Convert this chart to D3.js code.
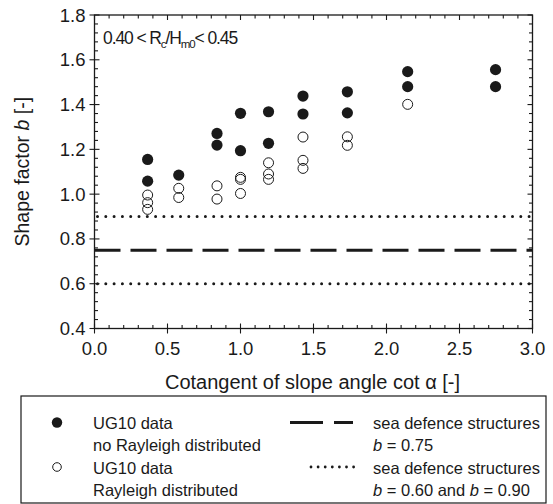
<!DOCTYPE html>
<html>
<head>
<meta charset="utf-8">
<script src="https://cdn.jsdelivr.net/npm/d3@7"></script>
<style>
  html, body { margin: 0; padding: 0; background: #fff; }
  svg { display: block; font-family: "Liberation Sans", Arial, Helvetica, sans-serif; }
</style>
</head>
<body>
<svg id="chart" width="553" height="504"></svg>
<script>
// Slope angles expressed as cot(alpha), one column of measurements per slope
const slopeCot = [0.364, 0.577, 0.839, 1.0, 1.192, 1.428, 1.732, 2.145, 2.747];

// Shape factor b, not Rayleigh distributed (filled markers)
const bNoRayleigh = [
  [1.155, 1.058],
  [1.085],
  [1.271, 1.219],
  [1.361, 1.194],
  [1.368, 1.227],
  [1.438, 1.358],
  [1.457, 1.363],
  [1.547, 1.480],
  [1.556, 1.480]
];

// Shape factor b, Rayleigh distributed (open markers)
const bRayleigh = [
  [0.996, 0.962, 0.932],
  [1.026, 0.985],
  [1.037, 0.978],
  [1.075, 1.066, 1.003],
  [1.140, 1.090, 1.066],
  [1.255, 1.151, 1.115],
  [1.256, 1.218],
  [1.401],
  []
];

// Reference values for sea defence structures
const bDesign = [0.75];
const bBounds = [0.60, 0.90];

const xTicks = [0.0, 0.5, 1.0, 1.5, 2.0, 2.5, 3.0];
const yTicks = [0.4, 0.6, 0.8, 1.0, 1.2, 1.4, 1.6, 1.8];

const legendRows = [
  ["UG10 data", "no Rayleigh distributed"],
  ["UG10 data", "Rayleigh distributed"]
];

const svg = d3.select("#chart");
const m = { left: 94.5, right: 532.5, top: 15, bottom: 328.5 };

const x = d3.scaleLinear().domain([0, 3]).range([m.left, m.right]);
const y = d3.scaleLinear().domain([0.4, 1.8]).range([m.bottom, m.top]);

const ink = "#1a1a1a";

// Frame
svg.append("rect")
  .attr("x", m.left).attr("y", m.top)
  .attr("width", m.right - m.left).attr("height", m.bottom - m.top)
  .attr("fill", "none").attr("stroke", ink).attr("stroke-width", 1.3);

const xMinor = d3.range(0, 3.0001, 0.1);
const yMinor = d3.range(0.4, 1.8001, 0.04);

function isMajor(v, step) { return Math.abs(v / step - Math.round(v / step)) < 1e-6; }

const ticks = svg.append("g").attr("stroke", ink).attr("stroke-width", 1.1);

// Bottom and top ticks
xMinor.forEach(v => {
  const major = isMajor(v, 0.5);
  const px = x(v);
  ticks.append("line").attr("x1", px).attr("x2", px)
    .attr("y1", m.bottom + (major ? 5 : 0)).attr("y2", m.bottom - (major ? 5 : 3.5));
  ticks.append("line").attr("x1", px).attr("x2", px)
    .attr("y1", m.top).attr("y2", m.top + (major ? 5 : 3.5));
});

// Left and right ticks
yMinor.forEach(v => {
  const major = isMajor(v - 0.4, 0.2);
  const py = y(v);
  ticks.append("line").attr("y1", py).attr("y2", py)
    .attr("x1", m.left - (major ? 5 : 0)).attr("x2", m.left + (major ? 5 : 3.5));
  ticks.append("line").attr("y1", py).attr("y2", py)
    .attr("x1", m.right).attr("x2", m.right - (major ? 5 : 3.5));
});

// Tick labels
svg.append("g").selectAll("text").data(xTicks).join("text")
  .attr("x", d => x(d)).attr("y", m.bottom + 26)
  .attr("text-anchor", "middle").attr("font-size", 18.5).attr("fill", ink)
  .text(d => d.toFixed(1));

svg.append("g").selectAll("text").data(yTicks).join("text")
  .attr("x", m.left - 9).attr("y", d => y(d) + 6.5)
  .attr("text-anchor", "end").attr("font-size", 18.5).attr("fill", ink)
  .text(d => d.toFixed(1));

// Axis titles
svg.append("text")
  .attr("x", (m.left + m.right) / 2 - 1).attr("y", 389)
  .attr("text-anchor", "middle").attr("font-size", 20).attr("fill", ink)
  .text("Cotangent of slope angle cot α [-]");

const yTitle = svg.append("text")
  .attr("transform", `translate(29,${(m.top + m.bottom) / 2}) rotate(-90)`)
  .attr("text-anchor", "middle").attr("font-size", 19.5).attr("fill", ink);
yTitle.append("tspan").text("Shape factor ");
yTitle.append("tspan").attr("font-style", "italic").text("b");
yTitle.append("tspan").text(" [-]");

// Range annotation
const ann = svg.append("text")
  .attr("x", 103).attr("y", 44).attr("font-size", 17.5).attr("fill", ink)
  .attr("letter-spacing", -1.1);
ann.append("tspan").text("0.40 < R");
ann.append("tspan").attr("font-size", 11.5).attr("dy", 4).text("c");
ann.append("tspan").attr("dy", -4).text("/H");
ann.append("tspan").attr("font-size", 11.5).attr("dy", 4).text("m0");
ann.append("tspan").attr("dy", -4).text("< 0.45");

// Reference lines
const lines = svg.append("g");
bDesign.forEach(v => {
  lines.append("line")
    .attr("x1", m.left).attr("x2", m.right).attr("y1", y(v)).attr("y2", y(v))
    .attr("stroke", ink).attr("stroke-width", 3)
    .attr("stroke-dasharray", "26,10");
});
bBounds.forEach(v => {
  lines.append("line")
    .attr("x1", m.left + 3).attr("x2", m.right).attr("y1", y(v)).attr("y2", y(v))
    .attr("stroke", ink).attr("stroke-width", 3).attr("stroke-linecap", "round")
    .attr("stroke-dasharray", "0,8.3");
});

// Data markers
const filled = slopeCot.flatMap((c, i) => bNoRayleigh[i].map(b => ({ c, b })));
const open = slopeCot.flatMap((c, i) => bRayleigh[i].map(b => ({ c, b })));

svg.append("g").selectAll("circle").data(open).join("circle")
  .attr("cx", d => x(d.c)).attr("cy", d => y(d.b)).attr("r", 5)
  .attr("fill", "none").attr("stroke", ink).attr("stroke-width", 1);

svg.append("g").selectAll("circle").data(filled).join("circle")
  .attr("cx", d => x(d.c)).attr("cy", d => y(d.b)).attr("r", 5.6)
  .attr("fill", ink);

// Legend
const lg = svg.append("g");
lg.append("rect").attr("x", 21).attr("y", 396).attr("width", 525).attr("height", 107)
  .attr("fill", "none").attr("stroke", ink).attr("stroke-width", 1.2);

const rowY = [428, 450, 472.5, 494.5];
const lgFont = 16.5;

lg.append("circle").attr("cx", 57).attr("cy", rowY[0] - 5.5).attr("r", 5.2).attr("fill", ink);
lg.append("circle").attr("cx", 57).attr("cy", rowY[2] - 5.5).attr("r", 4.3)
  .attr("fill", "none").attr("stroke", ink).attr("stroke-width", 1);

legendRows.forEach((pair, i) => {
  pair.forEach((t, j) => {
    lg.append("text").attr("x", 93).attr("y", rowY[i * 2 + j] + 1)
      .attr("font-size", lgFont).attr("fill", ink).text(t);
  });
});

const tx = 373;
lg.append("line").attr("x1", 290).attr("x2", 353).attr("y1", rowY[0] - 5.5).attr("y2", rowY[0] - 5.5)
  .attr("stroke", ink).attr("stroke-width", 3).attr("stroke-dasharray", "33,11");
lg.append("line").attr("x1", 311).attr("x2", 354).attr("y1", rowY[2] - 5.5).attr("y2", rowY[2] - 5.5)
  .attr("stroke", ink).attr("stroke-width", 2.8).attr("stroke-linecap", "round")
  .attr("stroke-dasharray", "0,7.1");

const r1 = lg.append("text").attr("x", tx).attr("y", rowY[0] + 1).attr("font-size", lgFont).attr("fill", ink);
r1.text("sea defence structures");
const r2 = lg.append("text").attr("x", tx).attr("y", rowY[1] + 1).attr("font-size", lgFont).attr("fill", ink);
r2.append("tspan").attr("font-style", "italic").text("b");
r2.append("tspan").text(" = " + bDesign[0].toFixed(2));
const r3 = lg.append("text").attr("x", tx).attr("y", rowY[2] + 1).attr("font-size", lgFont).attr("fill", ink);
r3.text("sea defence structures");
const r4 = lg.append("text").attr("x", tx).attr("y", rowY[3] + 1).attr("font-size", lgFont).attr("fill", ink);
r4.append("tspan").attr("font-style", "italic").text("b");
r4.append("tspan").text(" = " + bBounds[0].toFixed(2) + " and ");
r4.append("tspan").attr("font-style", "italic").text("b");
r4.append("tspan").text(" = " + bBounds[1].toFixed(2));
</script>
</body>
</html>
